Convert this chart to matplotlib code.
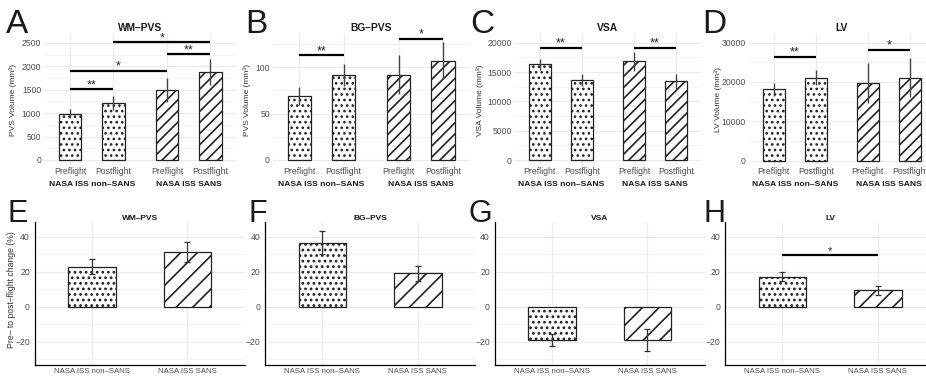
import numpy as np
import matplotlib
matplotlib.use("Agg")
import matplotlib.pyplot as plt
from matplotlib.ticker import MultipleLocator

plt.rcParams['font.family'] = ['Liberation Sans', 'DejaVu Sans']

W, H = 926, 381

# ---- top row: volumes ----
timepoints = ['Preflight', 'Postflight', 'Preflight', 'Postflight']
groups = ['NASA ISS non\u2013SANS', 'NASA ISS SANS']
top_titles = ['WM\u2013PVS', 'BG\u2013PVS', 'VSA', 'LV']
top_ylabels = ['PVS Volume (mm³)', 'PVS Volume (mm³)', 'VSA Volume (mm³)', 'LV Volume (mm³)']

wm_mean = [990, 1220, 1490, 1875]
wm_err = [90, 145, 255, 275]
bg_mean = [69, 92, 92, 107]
bg_err = [10, 12, 21, 20]
vsa_mean = [16300, 13580, 16820, 13420]
vsa_err = [950, 1000, 1650, 1250]
lv_mean = [18100, 21100, 19700, 21050]
lv_err = [1600, 1900, 5000, 5000]

# (from bar, to bar, height, label)
wm_sig = [(0, 1, 1510, '**'), (0, 2, 1910, '*'), (2, 3, 2255, '**'), (1, 3, 2512, '*')]
bg_sig = [(0, 1, 113, '**'), (2, 3, 131, '*')]
vsa_sig = [(0, 1, 19100, '**'), (2, 3, 19100, '**')]
lv_sig = [(0, 1, 26400, '**'), (2, 3, 28100, '*')]

# ---- bottom row: percent change ----
change_titles = ['WM\u2013PVS', 'BG\u2013PVS', 'VSA', 'LV']
wm_change = [22.9, 31.4]
wm_change_err = [4.2, 5.8]
bg_change = [36.7, 19.1]
bg_change_err = [6.7, 4.3]
vsa_change = [-19.0, -19.2]
vsa_change_err = [3.2, 6.3]
lv_change = [17.1, 9.5]
lv_change_err = [2.5, 2.6]
lv_change_sig = [(0, 1, 29.5, '*')]

pos = [1, 2, 3.24, 4.24]
tick_col = '#4D4D4D'
grid_col = '#EBEBEB'


def px_axes(fig, left, top, width, bottom):
    return fig.add_axes([left / W, 1 - bottom / H, width / W, (bottom - top) / H])


def style(ax):
    ax.set_axisbelow(True)
    ax.grid(which='major', color=grid_col, lw=0.9)
    ax.grid(which='minor', axis='y', color='#F3F3F3', lw=0.6)
    ax.tick_params(which='both', length=0, colors=tick_col)


def hatched_bar(ax, x, h, width, hatch, hlw):
    with plt.rc_context({'hatch.linewidth': hlw}):
        ax.bar(x, h, width=width, color='white', edgecolor='#222222', hatch=hatch, lw=0.9, zorder=2)


def top_panel(fig, left, width, mean, err, sig, title, ylabel, ylim, major, label_x):
    ax = px_axes(fig, left, 34, width, 165)
    for i in range(4):
        if i < 2:
            hatched_bar(ax, pos[i], mean[i], 0.52, '...', 1.1)
        else:
            hatched_bar(ax, pos[i], mean[i], 0.52, '///', 1.2)
    ax.errorbar(pos, mean, yerr=err, fmt='none', ecolor='#444444', elinewidth=1.0,
                capsize=0, zorder=3)
    for a, b, y, lab in sig:
        ax.plot([pos[a], pos[b]], [y, y], color='black', lw=1.6, solid_capstyle='butt', zorder=4)
        ax.annotate(lab, xy=((pos[a] + pos[b]) / 2, y), xytext=(0, 3), textcoords='offset points',
                    ha='center', va='center', fontsize=9, color='#222222')
    ax.set_xlim(0.4, 4.84)
    ax.set_ylim(*ylim)
    ax.yaxis.set_major_locator(MultipleLocator(major))
    ax.yaxis.set_minor_locator(MultipleLocator(major / 2))
    ax.set_xticks(pos)
    ax.set_xticklabels(timepoints)
    style(ax)
    ax.tick_params(axis='x', labelsize=6.2, pad=1.5)
    ax.tick_params(axis='y', labelsize=6.2, pad=2)
    for s in ax.spines.values():
        s.set_visible(False)
    for cx, g in zip([1.5, 3.74], groups):
        ax.annotate(g, xy=(cx, 0), xycoords=('data', 'axes fraction'), xytext=(0, -13.7),
                    textcoords='offset points', ha='center', va='center',
                    fontsize=6.1, fontweight='bold', color='#1A1A1A')
    ax.set_title(title, fontsize=7.4, fontweight='bold', pad=2.5, color='#1A1A1A')
    ax.set_ylabel(ylabel, fontsize=6, color='#333333')
    ax.yaxis.label.set_verticalalignment('center')
    ax.yaxis.set_label_coords(label_x / W, 1 - 100 / H, transform=fig.transFigure)
    return ax


def bottom_panel(fig, left, vals, errs, title, sig=None):
    ax = px_axes(fig, left, 221.7, 210, 365)
    hatched_bar(ax, 1, vals[0], 0.5, '...', 1.2)
    hatched_bar(ax, 2, vals[1], 0.5, '//', 1.2)
    ax.errorbar([1, 2], vals, yerr=errs, fmt='none', ecolor='#333333', elinewidth=0.9,
                capsize=2.5, capthick=0.9, zorder=3)
    if sig:
        for a, b, y, lab in sig:
            ax.plot([a + 1, b + 1], [y, y], color='black', lw=1.6, solid_capstyle='butt', zorder=4)
            ax.annotate(lab, xy=((a + b) / 2 + 1, y), xytext=(0, 3), textcoords='offset points',
                        ha='center', va='center', fontsize=8, color='#222222')
    ax.set_xlim(0.4, 2.6)
    ax.set_ylim(-33.3, 48.6)
    ax.yaxis.set_major_locator(MultipleLocator(20))
    ax.yaxis.set_minor_locator(MultipleLocator(10))
    ax.set_xticks([1, 2])
    ax.set_xticklabels(groups)
    style(ax)
    ax.tick_params(axis='x', labelsize=5.6, pad=2.5)
    ax.tick_params(axis='y', labelsize=6.2, pad=3.5)
    for s in ['top', 'right']:
        ax.spines[s].set_visible(False)
    for s in ['left', 'bottom']:
        ax.spines[s].set_color('black')
        ax.spines[s].set_linewidth(0.9)
    ax.set_title(title, fontsize=6, fontweight='bold', pad=1.5, color='#1A1A1A')
    return ax


fig = plt.figure(figsize=(W / 100, H / 100), dpi=100)

top_panel(fig, 44, 192.5, wm_mean, wm_err, wm_sig, top_titles[0], top_ylabels[0], (-107, 2692), 500, 13)
top_panel(fig, 272.6, 197, bg_mean, bg_err, bg_sig, top_titles[1], top_ylabels[1], (-5.4, 135.9), 50, 247)
top_panel(fig, 514.4, 187, vsa_mean, vsa_err, vsa_sig, top_titles[2], top_ylabels[2], (-852, 21483), 5000, 480)
top_panel(fig, 748.5, 186.5, lv_mean, lv_err, lv_sig, top_titles[3], top_ylabels[3], (-1144, 32166), 10000, 718)

axE = bottom_panel(fig, 34.7, wm_change, wm_change_err, change_titles[0])
bottom_panel(fig, 265.2, bg_change, bg_change_err, change_titles[1])
bottom_panel(fig, 494.7, vsa_change, vsa_change_err, change_titles[2])
bottom_panel(fig, 725.2, lv_change, lv_change_err, change_titles[3], lv_change_sig)
axE.set_ylabel('Pre\u2013 to post\u2013flight change (%)', fontsize=6.2, color='#333333')
axE.yaxis.label.set_verticalalignment('center')
axE.yaxis.set_label_coords(12 / W, 1 - 290 / H, transform=fig.transFigure)

for lab, x, base, size in [('A', 6, 33, 24), ('B', 245, 33, 24), ('C', 470, 33, 24), ('D', 702, 33, 24),
                           ('E', 8, 221.5, 22), ('F', 248, 221.5, 22), ('G', 468, 221.5, 22),
                           ('H', 703, 221.5, 22)]:
    fig.text(x / W, 1 - base / H, lab, fontsize=size, ha='left', va='baseline', color='#1A1A1A')

fig.savefig('out.png', dpi=100)
